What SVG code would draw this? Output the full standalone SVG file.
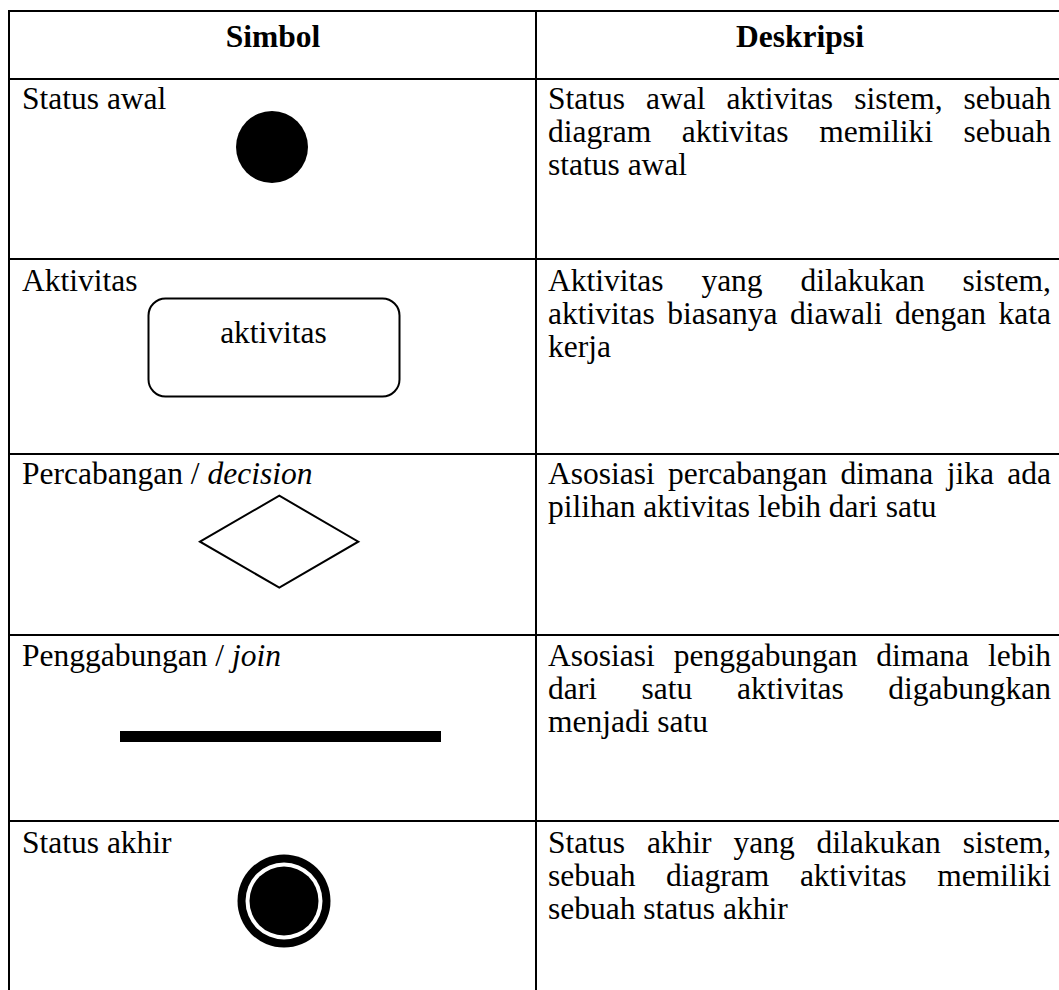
<svg xmlns="http://www.w3.org/2000/svg" width="1059" height="990" viewBox="0 0 1059 990">
<style>
text{font-family:"Liberation Serif","Times New Roman",serif;font-size:31.5px;fill:#000}
.h{font-weight:bold;text-anchor:middle}
.grid line{stroke:#000;stroke-width:2}
.sym{fill:none;stroke:#000;stroke-width:2}
</style>
<rect x="0" y="0" width="1059" height="990" fill="#fff"/>
<g id="table-grid" class="grid">
<line x1="8" y1="11" x2="1059" y2="11"/>
<line x1="8" y1="79" x2="1059" y2="79"/>
<line x1="8" y1="259" x2="1059" y2="259"/>
<line x1="8" y1="454" x2="1059" y2="454"/>
<line x1="8" y1="635" x2="1059" y2="635"/>
<line x1="8" y1="821" x2="1059" y2="821"/>
<line x1="9" y1="10" x2="9" y2="990"/>
<line x1="536" y1="10" x2="536" y2="990"/>
</g>
<g id="header">
<text class="h" x="273" y="47">Simbol</text>
<text class="h" x="800" y="47">Deskripsi</text>
</g>
<g id="row-status-awal">
<text x="22" y="109">Status awal</text>
<circle cx="272" cy="147" r="36" fill="#000"/>
<text y="109"><tspan x="548">Status</tspan><tspan x="646">awal</tspan><tspan x="726.4">aktivitas</tspan><tspan x="854.2">sistem,</tspan><tspan x="963.5">sebuah</tspan></text>
<text y="142"><tspan x="548">diagram</tspan><tspan x="681.8">aktivitas</tspan><tspan x="819.2">memiliki</tspan><tspan x="963.6">sebuah</tspan></text>
<text x="548" y="175">status awal</text>
</g>
<g id="row-aktivitas">
<text x="22" y="291">Aktivitas</text>
<rect class="sym" x="148.5" y="298.5" width="251" height="98" rx="17" ry="17"/>
<text x="273.5" y="343" text-anchor="middle">aktivitas</text>
<text y="291"><tspan x="548">Aktivitas</tspan><tspan x="701.4">yang</tspan><tspan x="800.5">dilakukan</tspan><tspan x="962.6">sistem,</tspan></text>
<text y="324"><tspan x="548">aktivitas</tspan><tspan x="667.2">biasanya</tspan><tspan x="789.9">diawali</tspan><tspan x="895.1">dengan</tspan><tspan x="998.5">kata</tspan></text>
<text x="548" y="357">kerja</text>
</g>
<g id="row-decision">
<text x="22" y="484">Percabangan / <tspan font-style="italic">decision</tspan></text>
<polygon class="sym" points="200,541.7 279.3,495.7 358.3,541.7 279.3,587.7"/>
<text y="484"><tspan x="548">Asosiasi</tspan><tspan x="668.1">percabangan</tspan><tspan x="840.6">dimana</tspan><tspan x="946.7">jika</tspan><tspan x="1007.3">ada</tspan></text>
<text x="548" y="517">pilihan aktivitas lebih dari satu</text>
</g>
<g id="row-join">
<text x="22" y="666">Penggabungan / <tspan font-style="italic">join</tspan></text>
<rect x="120" y="731" width="321" height="11" fill="#000"/>
<text y="666"><tspan x="548">Asosiasi</tspan><tspan x="673.7">penggabungan</tspan><tspan x="876.3">dimana</tspan><tspan x="988">lebih</tspan></text>
<text y="699"><tspan x="548">dari</tspan><tspan x="641.6">satu</tspan><tspan x="737">aktivitas</tspan><tspan x="888.3">digabungkan</tspan></text>
<text x="548" y="732">menjadi satu</text>
</g>
<g id="row-status-akhir">
<text x="22" y="853">Status akhir</text>
<circle cx="284" cy="901" r="46.5" fill="#000"/>
<circle cx="284" cy="901" r="38.5" fill="#fff"/>
<circle cx="284" cy="901" r="34.5" fill="#000"/>
<text y="853"><tspan x="548">Status</tspan><tspan x="646.9">akhir</tspan><tspan x="733.5">yang</tspan><tspan x="816.6">dilakukan</tspan><tspan x="962.7">sistem,</tspan></text>
<text y="886"><tspan x="548">sebuah</tspan><tspan x="666.1">diagram</tspan><tspan x="799.9">aktivitas</tspan><tspan x="937.2">memiliki</tspan></text>
<text x="548" y="919">sebuah status akhir</text>
</g>
</svg>
